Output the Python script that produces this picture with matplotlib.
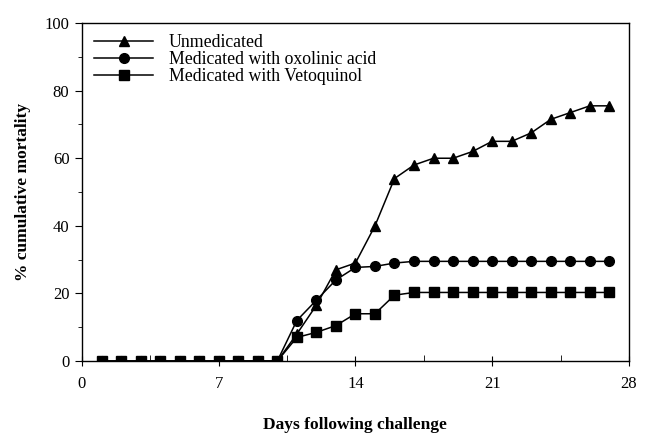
import matplotlib.pyplot as plt
import numpy as np

plt.rcParams['font.family'] = ['Liberation Serif', 'DejaVu Serif']

# data
days = list(range(1, 28))
unmedicated = [0, 0, 0, 0, 0, 0, 0, 0, 0, 0,
               8, 16.5, 27, 29, 40, 54, 58, 60, 60, 62, 65, 65, 67.5, 71.5, 73.5, 75.5, 75.5]
oxolinic = [0, 0, 0, 0, 0, 0, 0, 0, 0, 0,
            12, 18, 24, 27.7, 28, 29, 29.5, 29.5, 29.5, 29.5, 29.5, 29.5, 29.5, 29.5, 29.5, 29.5, 29.5]
vetoquinol = [0, 0, 0, 0, 0, 0, 0, 0, 0, 0,
              7, 8.5, 10.5, 14, 14, 19.5, 20.3, 20.3, 20.3, 20.3, 20.3, 20.3, 20.3, 20.3, 20.3, 20.3, 20.3]
labels = ['Unmedicated', 'Medicated with oxolinic acid', 'Medicated with Vetoquinol']

fig = plt.figure(figsize=(6.48, 4.34), dpi=100)
ax = fig.add_axes([0.1265, 0.168, 0.844, 0.779])

ax.plot(days, unmedicated, 'k-^', lw=1.1, ms=7, label=labels[0])
ax.plot(days, oxolinic, 'k-o', lw=1.1, ms=7, label=labels[1])
ax.plot(days, vetoquinol, 'k-s', lw=1.1, ms=6.5, label=labels[2])

ax.set_xlim(0, 28)
ax.set_ylim(0, 100)
ax.set_xticks([0, 7, 14, 21, 28])
ax.set_xticks([3.5, 10.5, 17.5, 24.5], minor=True)
ax.set_yticks([0, 20, 40, 60, 80, 100])
ax.set_yticks([10, 30, 50, 70, 90], minor=True)
ax.tick_params(axis='x', which='major', direction='inout', length=7, labelsize=12, pad=7)
ax.tick_params(axis='x', which='minor', direction='in', length=4)
ax.tick_params(axis='y', which='major', direction='out', length=5, labelsize=12, pad=4)
ax.tick_params(axis='y', which='minor', direction='out', length=3)
for s in ax.spines.values():
    s.set_linewidth(1.0)

ax.set_xlabel('Days following challenge', fontsize=12.5, fontweight='bold', labelpad=18)
ax.set_ylabel('% cumulative mortality', fontsize=12.5, fontweight='bold', labelpad=10)

ax.legend(loc='upper left', bbox_to_anchor=(0.0, 1.005), frameon=False,
          fontsize=12.8, handlelength=3.3, handletextpad=0.9, labelspacing=0.0,
          borderaxespad=0.3)

plt.savefig('out.png', dpi=100)
